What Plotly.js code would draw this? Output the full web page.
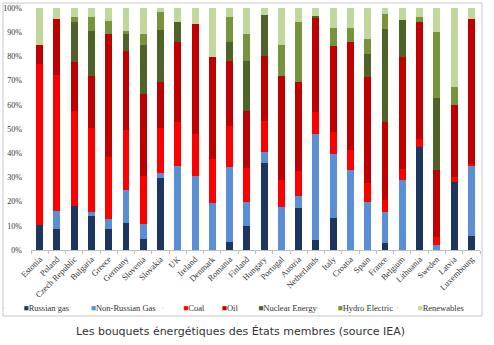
<!DOCTYPE html>
<html><head><meta charset="utf-8">
<script src="https://cdn.plot.ly/plotly-3.0.1.min.js"></script>
<style>html,body{margin:0;padding:0;background:#fff;}#chart{width:494px;height:345px;}</style>
</head><body><div id="chart"></div>
<script>
var countries = ["Estonia","Poland","Czech Republic","Bulgaria","Greece","Germany","Slovenia","Slovakia","UK","Ireland","Denmark","Romania","Finland","Hungary","Portugal","Austria","Netherlands","Italy","Croatia","Spain","France","Belgium","Lithuania","Sweden","Latvia","Luxembourg"];
var russianGas    = [10.5, 8.5,18.0,14.0, 8.5,11.2, 4.6,29.7, 0, 0, 0, 3.5,10.1,35.9, 0,17.4, 4.2,13.2, 0, 0, 2.8, 0,42.5, 0,28.0, 5.7];
var nonRussianGas = [0, 7.8, 0, 1.6, 4.4,13.4, 6.2, 2.0,34.6,30.4,19.5,30.7, 9.9, 4.8,17.7, 5.1,43.8,26.3,33.1,20.0,12.8,29.0, 0, 2.1, 0,28.9];
var coal          = [66.3,56.2,39.4,34.7,25.7,24.8,19.6,18.6,18.5,17.6,17.9,17.0,14.0,12.8,11.3,10.3, 9.2, 9.2, 8.4, 7.8, 4.9, 4.5, 3.4, 3.2, 2.1, 1.0];
var oil           = [8.0,23.0,20.2,21.5,50.7,33.0,34.1,19.3,32.8,45.5,42.3,27.1,23.6,26.6,42.8,36.8,38.6,35.5,44.6,43.6,32.3,46.2,48.2,27.8,29.9,59.9];
var nuclear       = [0, 0,16.8,18.9, 0, 7.0,20.3,21.3, 8.5, 0, 0, 7.6,20.7,17.1, 0, 0, 0.7, 0, 0, 9.7,38.6,15.5, 0,29.6, 0, 0];
var hydro         = [0, 0, 1.8, 5.5, 5.5, 1.3, 4.5, 7.4, 0, 0, 0,10.3,11.0, 0,13.0,24.8, 0, 7.5, 5.6, 6.2, 6.2, 0, 2.1,27.3, 7.3, 0];
var renewables    = [15.2, 4.5, 3.8, 3.8, 5.2, 9.3,10.7, 1.7, 5.6, 6.5,20.3, 3.8,10.7, 2.8,15.2, 5.6, 3.5, 8.3, 8.3,12.7, 2.4, 4.8, 3.8,10.0,32.7, 4.5];
var yTicks      = [0,10,20,30,40,50,60,70,80,90,100];
var yTickLabels = ["0%","10%","20%","30%","40%","50%","60%","70%","80%","90%","100%"];

var seriesNames  = ["Russian gas","Non-Russian Gas","Coal","Oil","Nuclear Energy","Hydro Electric","Renewables"];
var seriesValues = [russianGas, nonRussianGas, coal, oil, nuclear, hydro, renewables];
var seriesColors = ["#1c3660","#5a8fd5","#ff0000","#c00000","#4f6228","#77933c","#c3d69b"];
var legendMarkerX = [26, 93.3, 185.7, 224.3, 260.7, 340, 420];

var L = 31, R = 14, T = 8, B = 95;
var W = 494, H = 345;
var pw = W - L - R, ph = H - T - B;
function px2x(p){ return (p - L) / pw; }
function py2y(p){ return (H - B - p) / ph; }

var traces = [];
seriesNames.forEach(function(n, i){
  traces.push({type:'bar', x:countries, y:seriesValues[i], name:n, showlegend:false,
    marker:{color:seriesColors[i], line:{width:0}}, hoverinfo:'skip'});
});
var layout = {
  width:W, height:H, paper_bgcolor:'#fff', plot_bgcolor:'#fff',
  margin:{l:L, r:R, t:T, b:B, autoexpand:false},
  barmode:'stack', bargap:0.6,
  font:{family:'Liberation Serif, serif', size:8, color:'#333'},
  xaxis:{type:'category', tickangle:-45, showline:true, linecolor:'#bfbfbf', linewidth:1,
    ticks:'outside', tickson:'boundaries', ticklen:3, tickcolor:'#bfbfbf',
    tickfont:{family:'Liberation Serif, serif', size:8.5, color:'#333'}, showgrid:false, zeroline:false, fixedrange:true},
  yaxis:{range:[0,100], tickmode:'array', tickvals:yTicks, ticktext:yTickLabels, showgrid:false, zeroline:false, showline:false,
    ticks:'', ticklabelstandoff:8, tickfont:{family:'Liberation Serif, serif', size:8, color:'#333'}, fixedrange:true},
  shapes:[{type:'rect', xref:'paper', yref:'paper', x0:px2x(3), x1:px2x(482), y0:py2y(316), y1:py2y(3),
    line:{color:'#c8c8c8', width:1}, fillcolor:'rgba(0,0,0,0)', layer:'below'}],
  annotations:[{xref:'paper', yref:'paper', x:px2x(240), y:py2y(331), xanchor:'center', yanchor:'middle',
    showarrow:false, text:'Les bouquets énergétiques des États membres (source IEA)',
    font:{family:'DejaVu Sans, Verdana, sans-serif', size:11, color:'#333'}}]
};
seriesNames.forEach(function(n, i){
  var key = i === 0 ? 'legend' : 'legend' + (i + 1);
  traces.push({type:'scatter', mode:'markers', x:[null], y:[null], marker:{opacity:0, size:1},
    name:'<span style="color:' + seriesColors[i] + '">■</span>' + n, showlegend:true,
    legend:key, hoverinfo:'skip'});
  layout[key] = {x:px2x(legendMarkerX[i] - 2.5 - 40), y:py2y(308), xanchor:'left', yanchor:'middle',
    bgcolor:'rgba(0,0,0,0)', borderwidth:0, orientation:'h',
    font:{family:'Liberation Serif, serif', size:8.5, color:'#333'}};
});
Plotly.newPlot('chart', traces, layout, {staticPlot:true, displayModeBar:false});
</script></body></html>
